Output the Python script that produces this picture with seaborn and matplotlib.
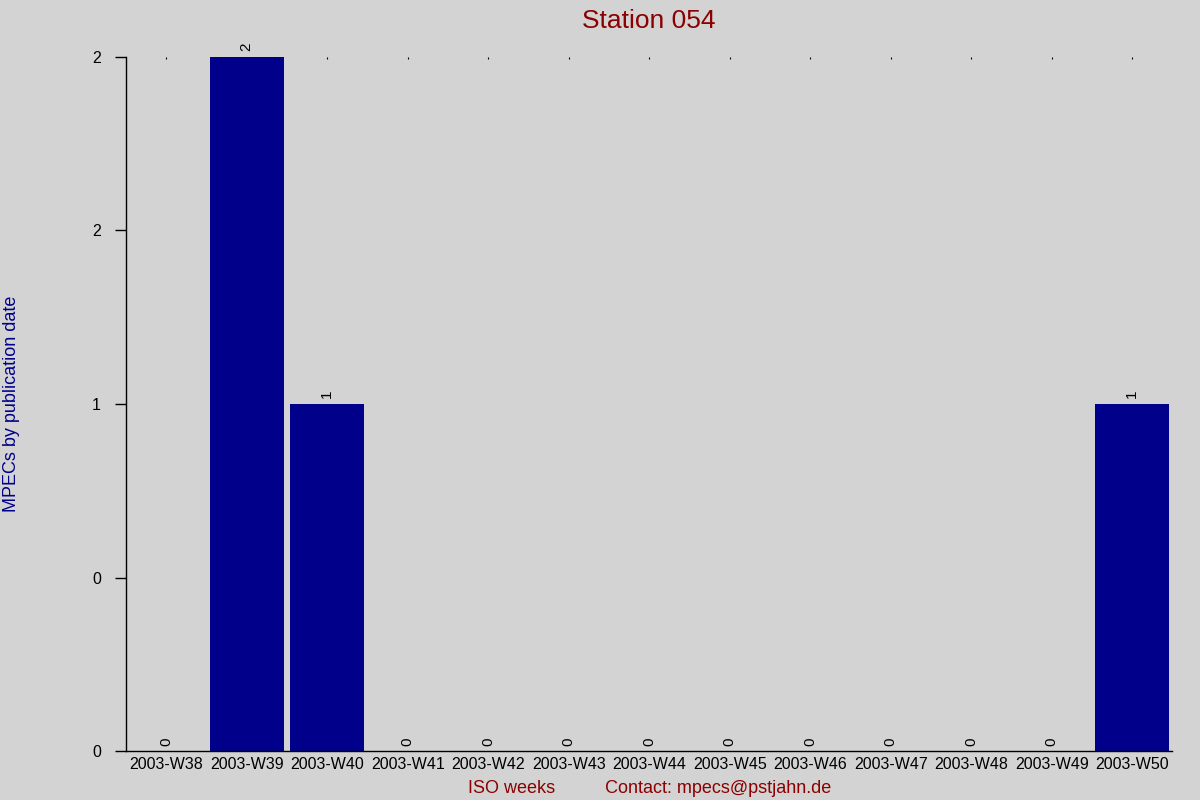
import pandas as pd
import seaborn as sns
from matplotlib import pyplot as plt

weeks = ["2003-W38", "2003-W39", "2003-W40", "2003-W41", "2003-W42", "2003-W43", "2003-W44",
         "2003-W45", "2003-W46", "2003-W47", "2003-W48", "2003-W49", "2003-W50"]
mpecs = [0, 2, 1, 0, 0, 0, 0, 0, 0, 0, 0, 0, 1]
yticks = [0, 0.5, 1, 1.5, 2]

sns.set_style("ticks")
plt.rcParams['font.family'] = ['Liberation Sans', 'DejaVu Sans']

df = pd.DataFrame({"week": weeks, "mpecs": mpecs})

fig = plt.figure(figsize=(12, 8), dpi=100, facecolor="#d3d3d3")
ax = fig.add_axes([0.105, 0.061, 0.872, 0.868])
ax.set_facecolor("#d3d3d3")

sns.barplot(data=df, x="week", y="mpecs", color="#00008b", saturation=1, width=0.92,
            linewidth=0, ax=ax, zorder=2)

# bar value labels, rotated
for i, v in enumerate(mpecs):
    ax.annotate(str(v), (i, v), xytext=(0, 4), textcoords="offset points",
                rotation=90, ha="center", va="bottom", fontsize=11, color="black")

ax.set_xlim(-0.5, len(weeks) - 0.5)
ax.set_ylim(0, max(mpecs))
ax.set_yticks(yticks)
ax.set_yticklabels(["{:.0f}".format(t) for t in yticks])

ax.tick_params(axis="x", bottom=False, top=True, direction="in", length=1.2, width=0.8,
               labelsize=11.5, pad=4, colors="black")
ax.tick_params(axis="y", length=8, width=1, pad=10, labelsize=11.5, colors="black")

for s in ["top", "right"]:
    ax.spines[s].set_visible(False)
for s in ["left", "bottom"]:
    ax.spines[s].set_linewidth(1)
    ax.spines[s].set_color("black")

ax.set_title("Station 054", color="#8b0000", fontsize=19, pad=21)
ax.set_xlabel("ISO weeks          Contact: mpecs@pstjahn.de", color="#8b0000", fontsize=13, labelpad=6)
ax.set_ylabel("MPECs by publication date", color="#00008b", fontsize=13)
ax.yaxis.set_label_coords(-0.101, 0.5)

plt.savefig("out.png", facecolor=fig.get_facecolor())
